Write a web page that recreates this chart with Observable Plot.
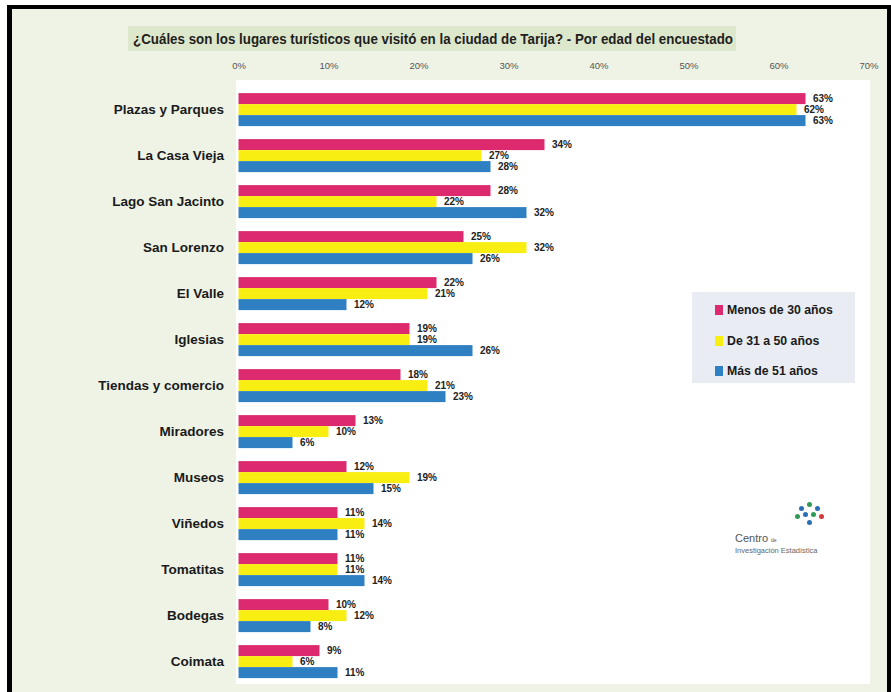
<!DOCTYPE html>
<html><head><meta charset="utf-8">
<script src="https://cdn.jsdelivr.net/npm/d3@7"></script>
<script src="https://cdn.jsdelivr.net/npm/@observablehq/plot@0.6"></script>
<style>
html,body{margin:0;padding:0;background:#fff;}
body{width:891px;height:692px;position:relative;overflow:hidden;font-family:"Liberation Sans",Arial,sans-serif;}
#frame{position:absolute;left:7px;top:5px;width:875px;height:700px;border-left:5px solid #000;border-top:4px solid #000;border-right:4px solid #000;background:#eef3e6;}
#titlebox{position:absolute;left:128px;top:26px;width:608px;height:25px;background:#dce7cb;}
#title{position:absolute;left:133px;top:26px;font-weight:bold;font-size:15px;color:#1e1e1e;line-height:25px;white-space:nowrap;transform-origin:0 50%;}
#panel{position:absolute;left:236px;top:80px;width:634px;height:604px;background:#fff;}
#chart{position:absolute;left:0;top:50px;}
#legend{position:absolute;left:692px;top:292px;width:163px;height:91px;background:#e9ecf3;}
.li{position:absolute;left:23px;height:16px;line-height:16px;font-weight:bold;font-size:12.3px;color:#1a1a1a;white-space:nowrap;}
.sw{display:inline-block;width:8px;height:10px;margin-right:4px;vertical-align:-1px;}
#logo{position:absolute;left:733px;top:498px;width:110px;height:70px;}
#logo .c{position:absolute;left:2px;top:34px;font-size:11px;color:#555;}
#logo .c small{font-size:5px;}
#logo .i{position:absolute;left:2px;top:48px;font-size:7.5px;color:#666;white-space:nowrap;}
#logo .d{position:absolute;width:5px;height:5px;border-radius:50%;}
</style></head>
<body>
<div id="frame"></div>
<div id="titlebox"></div>
<div id="title">¿Cuáles son los lugares turísticos que visitó en la ciudad de Tarija? - Por edad del encuestado</div>
<div id="panel"></div>
<div id="chart"></div>
<div id="legend"></div>
<div id="logo">
  <div class="d" style="left:66px;top:8px;background:#2a6fb5"></div>
  <div class="d" style="left:74px;top:4px;background:#2e9a56"></div>
  <div class="d" style="left:82px;top:8px;background:#2a6fb5"></div>
  <div class="d" style="left:62px;top:16px;background:#2e9a56"></div>
  <div class="d" style="left:70px;top:14px;background:#2a6fb5"></div>
  <div class="d" style="left:78px;top:14px;background:#2e9a56"></div>
  <div class="d" style="left:86px;top:16px;background:#d23a3a"></div>
  <div class="d" style="left:74px;top:22px;background:#2a6fb5"></div>
  <div class="c">Centro <small>de</small></div>
  <div class="i">Investigación Estadística</div>
</div>
<script>
const categories = ["Plazas y Parques","La Casa Vieja","Lago San Jacinto","San Lorenzo","El Valle","Iglesias","Tiendas y comercio","Miradores","Museos","Viñedos","Tomatitas","Bodegas","Coimata"];
const series = ["Menos de 30 años","De 31 a 50 años","Más de 51 años"];
const menos30 = [63,34,28,25,22,19,18,13,12,11,11,10,9];
const de31a50 = [62,27,22,32,21,19,21,10,19,14,11,12,6];
const mas51   = [63,28,32,26,12,26,23,6,15,11,14,8,11];
const xTicks = [0,10,20,30,40,50,60,70];
const colors = ["#dd2a6e","#f9ee12","#2f80c3"];

const values = [menos30, de31a50, mas51];
const data = [];
categories.forEach((c, i) => series.forEach((s, j) => data.push({place: c, series: s, value: values[j][i]})));

const chart = Plot.plot({
  width: 891, height: 642,
  marginLeft: 238.5, marginRight: 22.5, marginTop: 34.9, marginBottom: 5.9,
  style: {fontFamily: '"Liberation Sans",Arial,sans-serif', background: "transparent", overflow: "visible", color: "#1a1a1a"},
  x: {domain: [0, 70], label: null},
  fy: {domain: categories, paddingInner: 0.2865, paddingOuter: 0.14325, label: null},
  y: {domain: series, padding: 0, axis: null, label: null},
  color: {domain: series, range: colors},
  marks: [
    Plot.barX(data, {x: "value", y: "series", fy: "place", fill: "series"}),
    Plot.text(data, {x: "value", y: "series", fy: "place", text: d => d.value + "%", dx: 7, textAnchor: "start", fontSize: 10, fontWeight: "bold", fill: "#222"}),
    Plot.axisX(xTicks, {anchor: "top", tickSize: 0, tickPadding: 25, tickFormat: d => d + "%", fontSize: 9.5, fill: "#555", label: null}),
    Plot.axisFy({anchor: "left", tickSize: 0, tickPadding: 15, fontSize: 13.5, fontWeight: "bold", fill: "#1a1a1a", label: null})
  ]
});
document.getElementById("chart").appendChild(chart);

const legend = document.getElementById("legend");
const rowTops = [10, 41, 71];
series.forEach((s, i) => {
  const el = document.createElement("div");
  el.className = "li";
  el.style.top = rowTops[i] + "px";
  el.innerHTML = `<span class="sw" style="background:${colors[i]}"></span>${s}`;
  legend.appendChild(el);
});

// condense the title to the reference's width
const t = document.getElementById("title");
const w = t.getBoundingClientRect().width;
t.style.transform = `scaleX(${600 / w})`;
</script>
</body></html>
